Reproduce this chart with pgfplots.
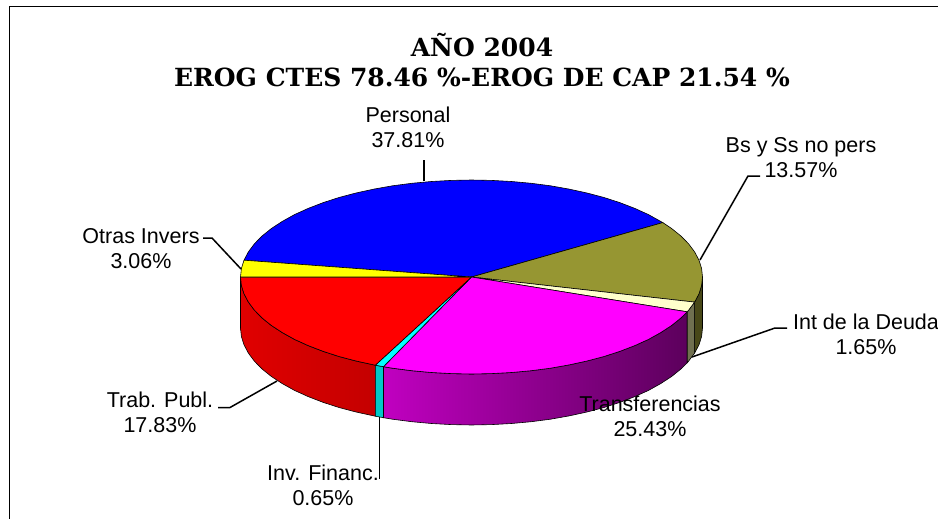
\documentclass[border=0pt]{standalone}
\usepackage{fontspec}
\setmainfont{Liberation Sans}
\newfontfamily\titlefont{DejaVu Serif}
\usepackage{pgfplots}
\pgfplotsset{compat=1.18}
\definecolor{olivetop}{HTML}{969632}
\definecolor{creamtop}{HTML}{FFFFCC}
\definecolor{puremag}{HTML}{FF00FF}
\definecolor{purecyan}{HTML}{00FFFF}
\definecolor{pureyel}{HTML}{FFFF00}
\definecolor{purered}{HTML}{FF0000}
\definecolor{pureblue}{HTML}{0000FF}
\definecolor{redL}{HTML}{E00000}
\definecolor{redR}{HTML}{C40000}
\definecolor{magL}{HTML}{C000C0}
\definecolor{magM}{HTML}{7A007A}
\definecolor{magR}{HTML}{5C005C}
\begin{document}
\begin{tikzpicture}
\path[use as bounding box] (0,0) rectangle (938pt,519pt);
\begin{axis}[at={(0,0)},anchor=south west,scale only axis,width=938pt,height=519pt,
  xmin=0,xmax=938,ymin=0,ymax=519,y dir=reverse,hide axis,clip=false]
% frame
\addplot[black,line width=1pt] coordinates {(9.5,519)(9.5,6.5)(938,6.5)};
% sides
\addplot[draw=black,line width=0.6pt,left color=redL,right color=redR] coordinates {
(375.3,365.2)(373.9,364.9)(356,361)(339,356.5)(323,351.3)(308.2,345.6)(294.5,339.4)(282.3,332.6)(271.4,325.5)(262.1,318)(254.4,310.2)(248.4,302.1)(244,293.8)(241.4,285.5)(240.5,277)
(240.5,328)(241.4,336.5)(244,344.8)(248.4,353.1)(254.4,361.2)(262.1,369)(271.4,376.5)(282.3,383.6)(294.5,390.4)(308.2,396.6)(323,402.3)(339,407.5)(356,412)(373.9,415.9)(375.3,416.2)} -- cycle;
\addplot[draw=black,line width=0.6pt,fill={rgb,255:red,0;green,200;blue,200}] coordinates {(383.5,366.7)(375.3,365.2)(375.3,416.2)(383.5,417.7)} -- cycle;
\addplot[draw=black,line width=0.6pt,left color=magL,middle color=magM,right color=magR] coordinates {
(687.2,311.8)(680.9,318)(671.6,325.5)(660.7,332.6)(648.5,339.4)(634.8,345.6)(620,351.3)(604,356.5)(587,361)(569.1,364.9)(550.5,368.2)(531.3,370.7)(511.6,372.5)(491.6,373.6)(471.5,374)(451.4,373.6)(431.4,372.5)(411.7,370.7)(392.5,368.2)(383.5,366.7)
(383.5,417.7)(392.5,419.2)(411.7,421.7)(431.4,423.5)(451.4,424.6)(471.5,425)(491.6,424.6)(511.6,423.5)(531.3,421.7)(550.5,419.2)(569.1,415.9)(587,412)(604,407.5)(620,402.3)(634.8,396.6)(648.5,390.4)(660.7,383.6)(671.6,376.5)(680.9,369)(687.2,362.8)} -- cycle;
\addplot[draw=black,line width=0.6pt,fill={rgb,255:red,112;green,112;blue,80}] coordinates {(694.6,302.1)(688.6,310.2)(687.2,311.8)(687.2,362.8)(688.6,361.2)(694.6,353.1)} -- cycle;
\addplot[draw=black,line width=0.6pt,fill={rgb,255:red,72;green,72;blue,24}] coordinates {(702.5,277)(701.6,285.5)(699,293.8)(694.6,302.1)(694.6,353.1)(699,344.8)(701.6,336.5)(702.5,328)} -- cycle;
% top slices
\addplot[draw=black,line width=0.6pt,fill=pureblue] coordinates {
(471.5,277)(244,260.2)(248.4,251.9)(254.4,243.8)(262.1,236)(271.4,228.5)(282.3,221.4)(294.5,214.6)(308.2,208.4)(323,202.7)(339,197.5)(356,193)(373.9,189.1)(392.5,185.8)(411.7,183.3)(431.4,181.5)(451.4,180.4)(471.5,180)(491.6,180.4)(511.6,181.5)(531.3,183.3)(550.5,185.8)(569.1,189.1)(587,193)(604,197.5)(620,202.7)(634.8,208.4)(648.5,214.6)(662.8,222.6)} -- cycle;
\addplot[draw=black,line width=0.6pt,fill=olivetop] coordinates {
(471.5,277)(662.8,222.6)(671.6,228.5)(680.9,236)(688.6,243.8)(694.6,251.9)(699,260.2)(701.6,268.5)(702.5,277)(701.6,285.5)(699,293.8)(694.6,302.1)} -- cycle;
\addplot[draw=black,line width=0.6pt,fill=creamtop] coordinates {(471.5,277)(694.6,302.1)(688.6,310.2)(687.2,311.8)} -- cycle;
\addplot[draw=black,line width=0.6pt,fill=puremag] coordinates {
(471.5,277)(687.2,311.8)(680.9,318)(671.6,325.5)(660.7,332.6)(648.5,339.4)(634.8,345.6)(620,351.3)(604,356.5)(587,361)(569.1,364.9)(550.5,368.2)(531.3,370.7)(511.6,372.5)(491.6,373.6)(471.5,374)(451.4,373.6)(431.4,372.5)(411.7,370.7)(392.5,368.2)(383.5,366.7)} -- cycle;
\addplot[draw=black,line width=0.6pt,fill=purecyan] coordinates {(471.5,277)(383.5,366.7)(375.3,365.2)} -- cycle;
\addplot[draw=black,line width=0.6pt,fill=purered] coordinates {
(471.5,277)(375.3,365.2)(373.9,364.9)(356,361)(339,356.5)(323,351.3)(308.2,345.6)(294.5,339.4)(282.3,332.6)(271.4,325.5)(262.1,318)(254.4,310.2)(248.4,302.1)(244,293.8)(241.4,285.5)(240.5,277)} -- cycle;
\addplot[draw=black,line width=0.6pt,fill=pureyel] coordinates {(471.5,277)(240.5,277)(241.4,268.5)(244,260.2)} -- cycle;
% leader lines
\addplot[black,line width=1.5pt] coordinates {(424,181)(424,160)};
\addplot[black,line width=1.5pt] coordinates {(700,260)(748,176)(760,176)};
\addplot[black,line width=1.5pt] coordinates {(692,357)(775,328)(787,328)};
\addplot[black,line width=1.5pt] coordinates {(203,238)(212,238)(241,269)};
\addplot[black,line width=1.5pt] coordinates {(218,407.5)(230,407.5)(277,381)};
\addplot[black,line width=1.5pt] coordinates {(379.3,417)(379.3,479)};
% labels
\node[align=center,font=\titlefont\bfseries\fontsize{25}{30}\selectfont] at (axis cs:482,60) {AÑO 2004\\EROG CTES 78.46 \%-EROG DE CAP 21.54 \%};
\tikzset{lab/.style={align=center,inner sep=0pt,font=\fontsize{21.5}{25}\selectfont}}
\node[lab] at (axis cs:408,127) {Personal\\37.81\%};
\node[lab] at (axis cs:801,158) {Bs y Ss no pers\\13.57\%};
\node[lab] at (axis cs:866,334) {Int de la Deuda\\1.65\%};
\node[lab] at (axis cs:141,249) {Otras Invers\\3.06\%};
\node[lab] at (axis cs:160,412) {Trab. Publ.\\17.83\%};
\node[lab] at (axis cs:323,485) {Inv. Financ.\\0.65\%};
\node[lab] at (axis cs:650,416) {Transferencias\\25.43\%};
\end{axis}
\end{tikzpicture}
\end{document}
